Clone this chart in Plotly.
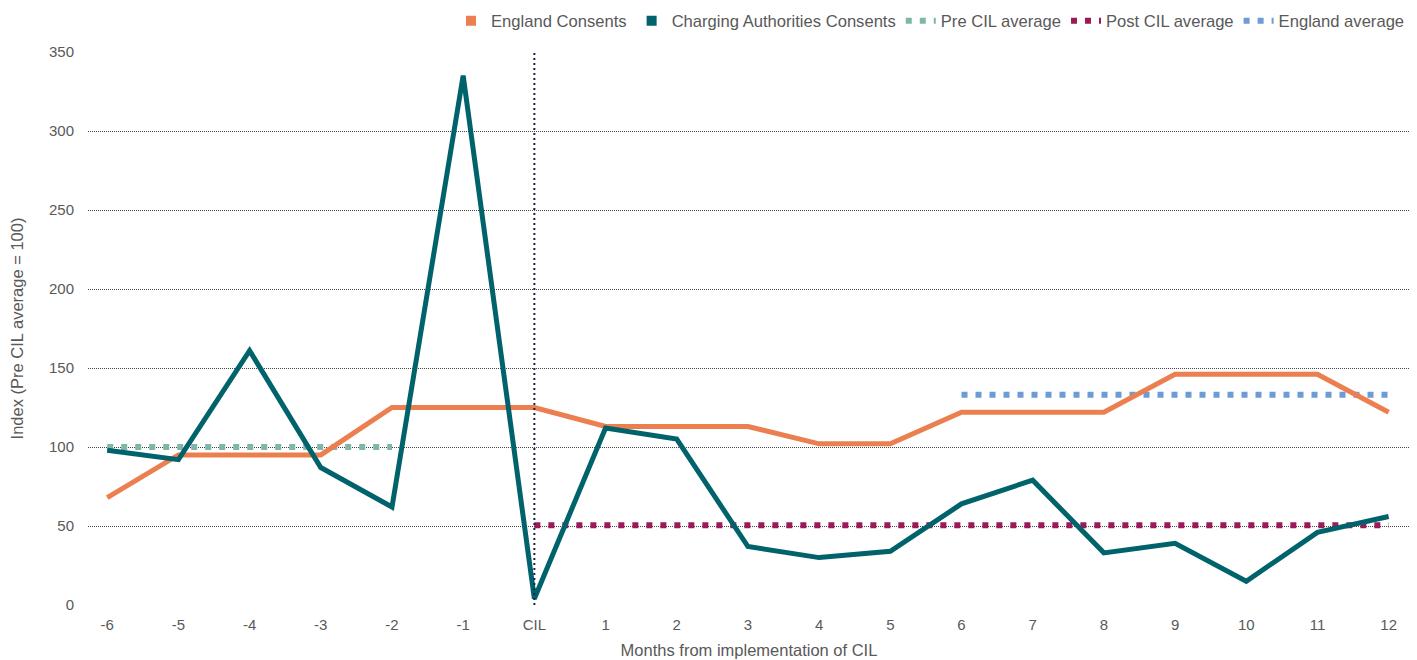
import plotly.graph_objects as go

categories = ["-6", "-5", "-4", "-3", "-2", "-1", "CIL", "1", "2", "3", "4", "5", "6", "7", "8", "9", "10", "11", "12"]
england_consents = [68, 95, 95, 95, 125, 125, 125, 113, 113, 113, 102, 102, 122, 122, 122, 146, 146, 146, 122]
charging_consents = [98, 92, 161, 87, 62, 335, 4, 112, 105, 37, 30, 34, 64, 79, 33, 39, 15, 46, 56]
pre_cil_avg = [100, 100, 100, 100, 100, None, None, None, None, None, None, None, None, None, None, None, None, None, None]
post_cil_avg = [None, None, None, None, None, None, 50.5, 50.5, 50.5, 50.5, 50.5, 50.5, 50.5, 50.5, 50.5, 50.5, 50.5, 50.5, 50.5]
england_avg = [None, None, None, None, None, None, None, None, None, None, None, None, 133, 133, 133, 133, 133, 133, 133]
y_ticks = [0, 50, 100, 150, 200, 250, 300, 350]

C_ENG = "#EB7F50"
C_CHG = "#00636B"
C_PRE = "#7FB6AA"
C_POST = "#9C1A58"
C_EAVG = "#6C9BD6"
FONT = "Liberation Sans, Arial, sans-serif"
GREY = "#595959"
DOTS = "6px,8px"

fig = go.Figure()

# dotted average lines (drawn first, behind)
fig.add_trace(go.Scatter(x=categories, y=pre_cil_avg, mode="lines", name="Pre CIL average",
                         line=dict(color=C_PRE, width=6, dash=DOTS), showlegend=False))
fig.add_trace(go.Scatter(x=categories, y=post_cil_avg, mode="lines", name="Post CIL average",
                         line=dict(color=C_POST, width=6, dash=DOTS), showlegend=False))
fig.add_trace(go.Scatter(x=categories, y=england_avg, mode="lines", name="England average",
                         line=dict(color=C_EAVG, width=6, dash=DOTS), showlegend=False))

fig.add_trace(go.Scatter(x=categories, y=england_consents, mode="lines", name="England Consents",
                         line=dict(color=C_ENG, width=5), showlegend=False))
fig.add_trace(go.Scatter(x=categories, y=charging_consents, mode="lines", name="Charging Authorities Consents",
                         line=dict(color=C_CHG, width=5), showlegend=False))

# legend entries
fig.add_trace(go.Scatter(x=[None], y=[None], mode="markers", name="England Consents",
                         marker=dict(symbol="square", size=10, color=C_ENG)))
fig.add_trace(go.Scatter(x=[None], y=[None], mode="markers", name="Charging Authorities Consents",
                         marker=dict(symbol="square", size=10, color=C_CHG)))
for nm, col in [("Pre CIL average", C_PRE), ("Post CIL average", C_POST), ("England average", C_EAVG)]:
    fig.add_trace(go.Scatter(x=[None], y=[None], mode="lines", name=nm,
                             line=dict(color=col, width=6, dash=DOTS)))

fig.add_shape(type="line", x0="CIL", x1="CIL", y0=0, y1=350, xref="x", yref="y",
              line=dict(color="#1B2344", width=2, dash="2px,3px"), layer="above")

fig.update_layout(
    width=1417, height=660,
    margin=dict(l=88, r=7, t=52, b=55, autoexpand=False),
    paper_bgcolor="white", plot_bgcolor="white",
    font=dict(family=FONT, color=GREY, size=15),
    legend=dict(orientation="h", x=1.0, xanchor="right", y=1.088, yanchor="top",
                font=dict(size=16.6, color=GREY), itemwidth=30, tracegroupgap=0,
                bgcolor="rgba(0,0,0,0)"),
    hovermode=False,
)
fig.update_xaxes(
    type="category", categoryorder="array", categoryarray=categories,
    range=[-0.27, 18.3], showgrid=False, zeroline=False, showline=False, automargin=False,
    ticks="outside", ticklen=6, tickcolor="rgba(0,0,0,0)",
    tickfont=dict(size=15, color=GREY),
    title=dict(text="Months from implementation of CIL", font=dict(size=16.5, color=GREY), standoff=12),
)
fig.update_yaxes(
    range=[0, 350], tickvals=y_ticks, showgrid=True, gridcolor="#444444", gridwidth=1, griddash="1px,1px",
    zeroline=False, showline=False, automargin=False,
    ticks="outside", ticklen=10, tickcolor="rgba(0,0,0,0)",
    tickfont=dict(size=15, color=GREY),
    title=dict(text="Index (Pre CIL average = 100)", font=dict(size=16.5, color=GREY), standoff=21),
)

fig.write_html("out.html", config={"displayModeBar": False},
               post_script="document.body.style.margin='0';document.body.style.overflow='hidden';")
